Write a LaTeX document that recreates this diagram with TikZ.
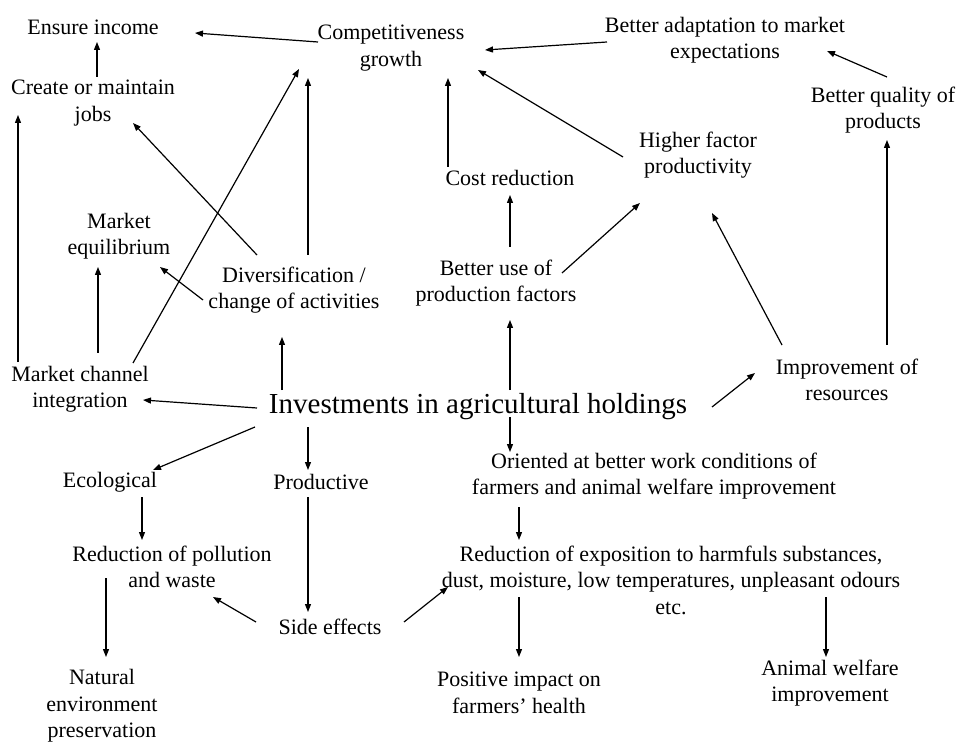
\documentclass[tikz,border=0pt]{standalone}
\usepackage{fontspec}
\setmainfont{Liberation Serif}
\usetikzlibrary{arrows.meta,calc}
\tikzset{
  box/.style={align=center, inner sep=0pt, font=\fontsize{22}{26.5}\selectfont},
  bigbox/.style={align=center, inner sep=0pt, font=\fontsize{29}{34}\selectfont},
  arr/.style={-{Triangle[length=8pt,width=6pt]}, line width=1.2pt},
}
\begin{document}
\begin{tikzpicture}[x=1pt,y=-1pt]
    \useasboundingbox (0,0) rectangle (956,743);

    % top row
    \node[box] (ensure) at (93,27) {Ensure income};
    \node[box] (jobs) at (93,103) {Create or maintain\\jobs};
    \node[box] (compet) at (391,48) {Competitiveness\\growth};
    \node[box] (adapt) at (725,40) {Better adaptation to market\\expectations};
    \node[box] (quality) at (883,110) {Better quality of\\products};
    \node[box] (higher) at (698,155) {Higher factor\\productivity};
    \node[box] (cost) at (510,178) {Cost reduction};

    % middle
    \node[box] (markeq) at (119,236) {Market\\equilibrium};
    \node[box] (divers) at (294,290) {Diversification /\\change of activities};
    \node[box] (betteruse) at (496,283) {Better use of\\production factors};
    \node[box] (mci) at (80,389) {Market channel\\integration};
    \node[bigbox] (invest) at (478,407) {Investments in agricultural holdings};
    \node[box] (improve) at (847,380) {Improvement of\\resources};

    % bottom
    \node[box] (ecol) at (110,482) {Ecological};
    \node[box] (prod) at (321,482) {Productive};
    \node[box] (oriented) at (654,476) {Oriented at better work conditions of\\farmers and animal welfare improvement};
    \node[box] (redpoll) at (172,567) {Reduction of pollution\\and waste};
    \node[box] (redexp) at (671,580) {Reduction of exposition to harmfuls substances,\\dust, moisture, low temperatures, unpleasant odours\\etc.};
    \node[box] (side) at (330,627) {Side effects};
    \node[box] (natural) at (102,706) {Natural\\environment\\preservation};
    \node[box] (health) at (519,693) {Positive impact on\\farmers’ health};
    \node[box] (animal) at (830,683) {Animal welfare\\improvement};

    % connectors
    \draw[arr] ($(compet)+(-73,-6)$) -- ($(ensure)+(102,6)$);
    \draw[arr] ($(jobs)+(4,-26)$) -- ($(ensure)+(4,15)$);
    \draw[arr] ($(mci)+(-62,-27)$) -- ($(jobs)+(-75,12)$);
    \draw[arr] ($(mci)+(53,-26)$) -- ($(compet)+(-92,21)$);
    \draw[arr] ($(divers)+(-37,-35)$) -- ($(jobs)+(40,20)$);
    \draw[arr] ($(divers)+(14,-35)$) -- ($(compet)+(-83,30)$);
    \draw[arr] ($(mci)+(18,-36)$) -- ($(markeq)+(-21,31)$);
    \draw[arr] ($(divers)+(-91,10)$) -- ($(markeq)+(41,31)$);
    \draw[arr] ($(invest)+(-196,-17)$) -- ($(divers)+(-12,47)$);
    \draw[arr] ($(invest)+(-221,1)$) -- ($(mci)+(63,11)$);
    \draw[arr] ($(invest)+(-223,20)$) -- ($(ecol)+(43,-12)$);
    \draw[arr] ($(invest)+(-170,20)$) -- ($(prod)+(-13,-12)$);
    \draw[arr] ($(invest)+(32,-17)$) -- ($(betteruse)+(14,37)$);
    \draw[arr] ($(invest)+(32,10)$) -- ($(oriented)+(-144,-24)$);
    \draw[arr] ($(invest)+(234,0)$) -- ($(improve)+(-92,-7)$);
    \draw[arr] ($(betteruse)+(14,-36)$) -- ($(cost)+(0,17)$);
    \draw[arr] ($(betteruse)+(66,-10)$) -- ($(higher)+(-58,48)$);
    \draw[arr] ($(cost)+(-62,-11)$) -- ($(compet)+(57,30)$);
    \draw[arr] ($(higher)+(-75,2)$) -- ($(compet)+(87,22)$);
    \draw[arr] ($(adapt)+(-118,2)$) -- ($(compet)+(94,2)$);
    \draw[arr] ($(quality)+(4,-33)$) -- ($(adapt)+(102,11)$);
    \draw[arr] ($(improve)+(40,-35)$) -- ($(quality)+(4,30)$);
    \draw[arr] ($(improve)+(-65,-35)$) -- ($(higher)+(14,58)$);
    \draw[arr] ($(ecol)+(32,15)$) -- ($(redpoll)+(-30,-27)$);
    \draw[arr] ($(prod)+(-13,15)$) -- ($(side)+(-22,-15)$);
    \draw[arr] ($(side)+(-74,-5)$) -- ($(redpoll)+(41,30)$);
    \draw[arr] ($(side)+(74,-5)$) -- ($(redexp)+(-223,7)$);
    \draw[arr] ($(redpoll)+(-66,11)$) -- ($(natural)+(4,-49)$);
    \draw[arr] ($(oriented)+(-135,31)$) -- ($(redexp)+(-152,-40)$);
    \draw[arr] ($(redexp)+(-152,17)$) -- ($(health)+(0,-36)$);
    \draw[arr] ($(redexp)+(155,17)$) -- ($(animal)+(-4,-26)$);
\end{tikzpicture}
\end{document}
